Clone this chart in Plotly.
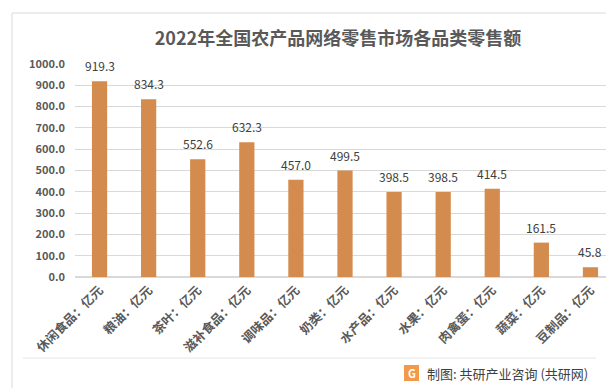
import plotly.graph_objects as go

categories = ["休闲食品：亿元", "粮油：亿元", "茶叶：亿元", "滋补食品：亿元", "调味品：亿元",
              "奶类：亿元", "水产品：亿元", "水果：亿元", "肉禽蛋：亿元", "蔬菜：亿元", "豆制品：亿元"]
values = [919.3, 834.3, 552.6, 632.3, 457.0, 499.5, 398.5, 398.5, 414.5, 161.5, 45.8]
y_ticks = [0, 100, 200, 300, 400, 500, 600, 700, 800, 900, 1000]

FONT = "Noto Sans CJK SC"
W, H = 614, 388
L, R, T, B = 67, 7, 56, 119
PW, PH = W - L - R, H - T - B

def px(x):
    return (x - L) / PW

def py(y):
    return (H - B - y) / PH

fig = go.Figure()
fig.add_trace(go.Bar(
    x=categories, y=values,
    marker=dict(color="#D38B4E", line=dict(width=0)),
    cliponaxis=False,
))

shapes = [
    dict(type="rect", xref="paper", yref="paper", x0=px(4), x1=px(609), y0=py(5), y1=py(383),
         line=dict(color="#D9D9D9", width=1), fillcolor="rgba(0,0,0,0)", layer="below"),
    dict(type="line", xref="paper", yref="paper", x0=px(15), x1=px(588), y0=py(350), y1=py(350),
         line=dict(color="#E6E6E6", width=1)),
    dict(type="rect", xref="paper", yref="paper", x0=px(396), x1=px(411), y0=py(357), y1=py(373),
         line=dict(width=0), fillcolor="#F29A4A"),
]

annotations = [
    dict(text="制图: 共研产业咨询 (共研网)", xref="paper", yref="paper", x=px(417), y=py(365),
         xanchor="left", yanchor="middle", showarrow=False,
         font=dict(family=FONT, size=13, color="#404040")),
    dict(text="<b>G</b>", xref="paper", yref="paper", x=px(403.5), y=py(365),
         xanchor="center", yanchor="middle", showarrow=False,
         font=dict(family=FONT, size=11, color="white")),
]
for c, v in zip(categories, values):
    annotations.append(dict(x=c, y=v, xref="x", yref="y", text=f"{v:.1f}", showarrow=False,
                            yanchor="bottom", yshift=5,
                            font=dict(family=FONT, size=12, color="#404040")))

fig.update_layout(
    width=W, height=H,
    margin=dict(l=L, r=R, t=T, b=B),
    paper_bgcolor="white", plot_bgcolor="white",
    title=dict(text="<b>2022年全国农产品网络零售市场各品类零售额</b>", x=330 / W, y=1 - 31 / H,
               xanchor="center", yanchor="middle",
               font=dict(family=FONT, size=18, color="#595959")),
    bargap=0.69,
    showlegend=False,
    shapes=shapes,
    annotations=annotations,
    xaxis=dict(tickangle=-45, tickfont=dict(family=FONT, size=12.5, color="#595959"),
               showline=True, linecolor="#D9D9D9", ticks="", showgrid=False),
    yaxis=dict(range=[0, 1000], tickvals=y_ticks, ticktext=[f"<b>{v:.1f}</b>" for v in y_ticks],
               tickfont=dict(family=FONT, size=11, color="#595959"),
               showgrid=True, gridcolor="#D9D9D9", zeroline=True, zerolinecolor="#D9D9D9",
               ticks="", ticklabelstandoff=9),
)
fig.update_xaxes(ticktext=[f"<b>{c}</b>" for c in categories], tickvals=categories)

fig.write_html("out.html")
